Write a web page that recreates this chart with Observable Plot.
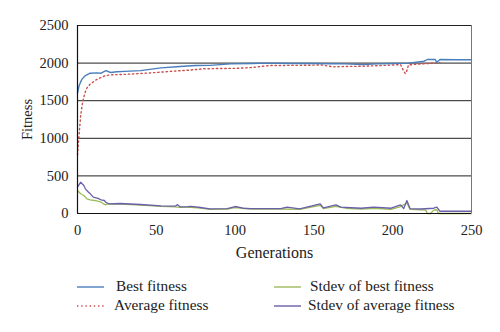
<!DOCTYPE html>
<html>
<head>
<meta charset="utf-8">
<script src="https://cdn.jsdelivr.net/npm/d3@7"></script>
<script src="https://cdn.jsdelivr.net/npm/@observablehq/plot@0.6"></script>
<style>
  body { margin: 0; background: #fff; font-family: "Liberation Serif", "DejaVu Serif", serif; }
  #wrap { position: relative; width: 500px; height: 332px; overflow: hidden; }
  #chart { position: absolute; left: 0; top: 0; }
  #chart svg text { font-family: "Liberation Serif", "DejaVu Serif", serif; }
  .leg { position: absolute; font-size: 15.3px; color: #222; line-height: 16px; white-space: nowrap; font-family: "Liberation Serif", "DejaVu Serif", serif; }
</style>
</head>
<body>
<div id="wrap"><div id="chart"></div></div>
<script>
// ---- data ----
const bestGen = [0,1,2,3,5,8,12,15,18,21,25,30,40,53,65,75,84,97,110,122,135,150,160,170,181,190,200,210,220,222,227,228,230,240,250];
const bestVal = [1600,1700,1750,1790,1835,1866,1870,1866,1900,1875,1885,1890,1900,1937,1955,1968,1970,1990,1995,2000,1995,1995,1992,1990,1980,1990,1995,2000,2025,2048,2048,2010,2048,2045,2045];

const avgGen = [0,1,2,3,4,5,6,8,10,12,15,18,22,30,40,50,60,70,80,90,100,110,122,141,155,162,170,180,190,200,205,207,208,209,210,215,220,225,230];
const avgVal = [780,1050,1300,1450,1550,1620,1670,1720,1750,1780,1810,1835,1845,1850,1862,1875,1892,1905,1924,1928,1930,1940,1968,1970,1975,1950,1955,1958,1965,1975,1980,1892,1860,1900,1975,1985,1990,2000,2005];

const sdAvgGen = [0,2,4,5,7,8,10,13,15,17,18,20,27,40,53,62,63.5,65,70,72,78,84,95,100,105,110,129,133,141,154,156,164,167,180,188,199,205,207,209,211,218,226,228,230,240,250];
const sdAvgVal = [350,416,372,328,283,265,217,200,182,173,150,129,133,120,102,97,118,89,92,96,80,62,66,93,70,66,66,84,62,129,76,115,84,70,84,70,115,66,173,66,60,70,84,30,30,30];

const sdBestGen = [0,2,4,6,8,11,15,16.5,18,19,27,40,53,62,65,70,78,84,95,100,110,129,141,154,156,164,170,180,188,199,205,209,211,218,221,222,224,226,228,229,240,250];
const sdBestVal = [306,262,240,195,180,173,150,129,115,129,126,112,95,88,82,86,72,56,60,78,60,60,56,108,66,95,70,58,70,56,92,140,55,49,45,0,0,45,50,0,0,0];

const toRows = (g, v) => g.map((x, i) => ({gen: x, val: v[i]}));
const best = toRows(bestGen, bestVal);
const avg = toRows(avgGen, avgVal);
const sdAvg = toRows(sdAvgGen, sdAvgVal);
const sdBest = toRows(sdBestGen, sdBestVal);

const xTicks = [0, 50, 100, 150, 200, 250];
const yTicks = [0, 500, 1000, 1500, 2000, 2500];
const gridY = [500, 1000, 1500, 2000, 2500];

const colors = {best: "#4a7ebb", avg: "#c9504d", sdBest: "#9bbb59", sdAvg: "#6a5fa8"};
const serif = "'Liberation Serif', 'DejaVu Serif', serif";

const chart = Plot.plot({
  width: 500,
  height: 265,
  marginLeft: 77,
  marginRight: 29,
  marginTop: 25,
  marginBottom: 52,
  style: {fontFamily: serif, fontSize: "14.5px", color: "#222", background: "transparent"},
  x: {domain: [0, 250]},
  y: {domain: [0, 2500]},
  marks: [
    Plot.ruleY(gridY, {stroke: "#222", strokeWidth: 1}),
    Plot.ruleX([250], {stroke: "#777", strokeWidth: 1}),
    Plot.line(sdBest, {x: "gen", y: "val", stroke: colors.sdBest, strokeWidth: 1.3}),
    Plot.line(sdAvg, {x: "gen", y: "val", stroke: colors.sdAvg, strokeWidth: 1.3}),
    Plot.line(avg, {x: "gen", y: "val", stroke: colors.avg, strokeWidth: 1.4, strokeDasharray: "1.4,2.8"}),
    Plot.line(best, {x: "gen", y: "val", stroke: colors.best, strokeWidth: 1.4}),
    Plot.ruleX([0], {stroke: "#111", strokeWidth: 1.2}),
    Plot.ruleY([0], {stroke: "#111", strokeWidth: 1.2}),
    Plot.axisX({ticks: xTicks, tickSize: 0, tickPadding: 11, tickFormat: d3.format("d"), label: null, fontSize: 14.5}),
    Plot.axisX({ticks: [], tickSize: 0, label: "Generations", labelAnchor: "center", labelArrow: "none", labelOffset: 44, fontSize: 16}),
    Plot.axisY({ticks: yTicks, tickSize: 0, tickPadding: 9, tickFormat: d3.format("d"), label: "Fitness", labelAnchor: "center", labelArrow: "none", labelOffset: 56, fontSize: 14.5})
  ]
});
document.getElementById("chart").appendChild(chart);

// ---- legend ----
const legendItems = [
  {name: "Best fitness", color: colors.best, dash: null, lx: 77, tx: 116, y: 287},
  {name: "Average fitness", color: colors.avg, dash: "1.4,2.8", lx: 77, tx: 114, y: 306},
  {name: "Stdev of best fitness", color: colors.sdBest, dash: null, lx: 274, tx: 310, y: 287},
  {name: "Stdev of average fitness", color: colors.sdAvg, dash: null, lx: 274, tx: 308, y: 306}
];
const wrap = document.getElementById("wrap");
legendItems.forEach(it => {
  const s = document.createElementNS("http://www.w3.org/2000/svg", "svg");
  s.setAttribute("width", 28); s.setAttribute("height", 4);
  s.style.position = "absolute"; s.style.left = it.lx + "px"; s.style.top = (it.y - 2) + "px";
  const l = document.createElementNS("http://www.w3.org/2000/svg", "line");
  l.setAttribute("x1", 0); l.setAttribute("x2", 27); l.setAttribute("y1", 2); l.setAttribute("y2", 2);
  l.setAttribute("stroke", it.color); l.setAttribute("stroke-width", 1.4);
  if (it.dash) l.setAttribute("stroke-dasharray", it.dash);
  s.appendChild(l);
  wrap.appendChild(s);
  const t = document.createElement("div");
  t.className = "leg"; t.textContent = it.name;
  t.style.left = it.tx + "px"; t.style.top = (it.y - 9) + "px";
  wrap.appendChild(t);
});
</script>
</body>
</html>
